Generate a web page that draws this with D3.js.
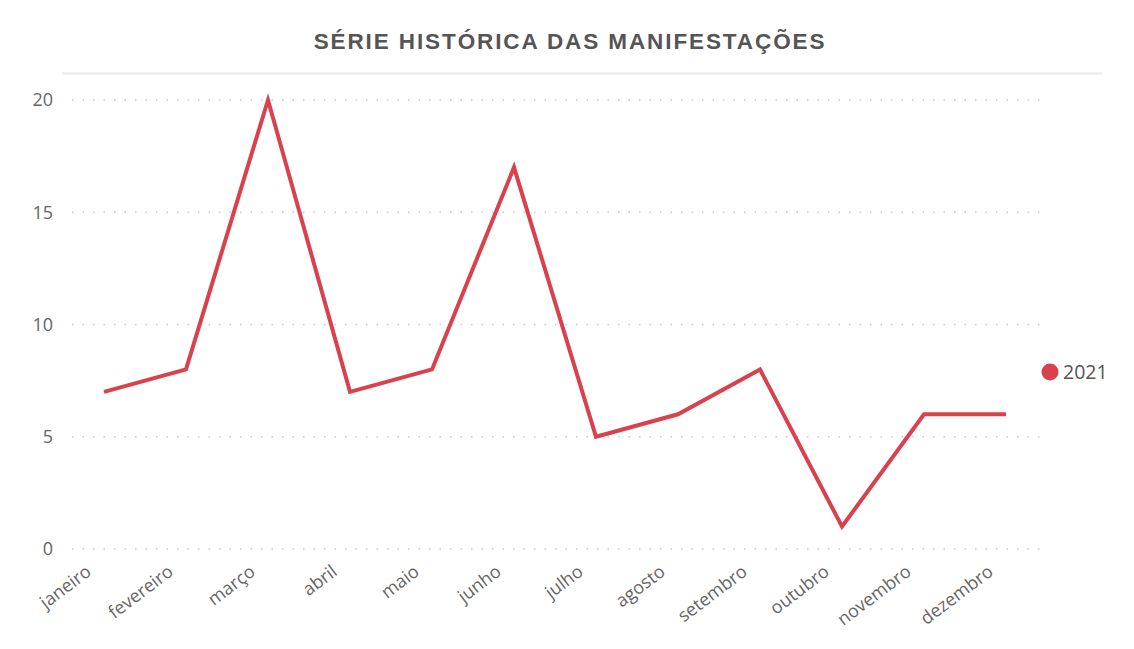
<!DOCTYPE html>
<html>
<head>
<meta charset="utf-8">
<script src="https://cdn.jsdelivr.net/npm/d3@7"></script>
<style>
  body { margin: 0; background: #fff; }
  svg { display: block; }
</style>
</head>
<body>
<svg id="chart" width="1134" height="649"></svg>
<script>
var months = ["janeiro", "fevereiro", "março", "abril", "maio", "junho", "julho", "agosto", "setembro", "outubro", "novembro", "dezembro"];
var values2021 = [7, 8, 20, 7, 8, 17, 5, 6, 8, 1, 6, 6];
var yTicks = [0, 5, 10, 15, 20];
var seriesName = "2021";
var title = "SÉRIE HISTÓRICA DAS MANIFESTAÇÕES";

var lineColor = "#d9414f";
var textColor = "#666";

var svg = d3.select("#chart");

// title
svg.append("text")
  .attr("x", 570)
  .attr("y", 48.5)
  .attr("text-anchor", "middle")
  .attr("font-family", "Liberation Sans, Arial, sans-serif")
  .attr("font-weight", "bold")
  .attr("font-size", 22.5)
  .attr("letter-spacing", 1.9)
  .attr("fill", "#555")
  .text(title);

svg.append("line")
  .attr("x1", 62).attr("x2", 1102)
  .attr("y1", 73.5).attr("y2", 73.5)
  .attr("stroke", "#eaeaea")
  .attr("stroke-width", 2);

var xScale = d3.scalePoint().domain(months).range([104, 1006]);
var yScale = d3.scaleLinear().domain([0, 20]).range([549, 100]);

// grid
svg.selectAll(".grid").data(yTicks).enter()
  .append("line")
  .attr("class", "grid")
  .attr("x1", 72)
  .attr("x2", 1040)
  .attr("y1", function(d) { return yScale(d); })
  .attr("y2", function(d) { return yScale(d); })
  .attr("stroke", "#c8c8c8")
  .attr("stroke-width", 1.5)
  .attr("stroke-dasharray", "1.5,9");

// y axis
var yAxis = d3.axisLeft(yScale).tickValues(yTicks).tickSize(0).tickPadding(0);
var gy = svg.append("g")
  .attr("transform", "translate(53,0)")
  .call(yAxis);
gy.select(".domain").remove();
gy.selectAll("text")
  .attr("font-family", "Open Sans, sans-serif")
  .attr("font-size", 18)
  .attr("fill", textColor);

// x axis
var xAxis = d3.axisBottom(xScale).tickSize(0).tickPadding(0);
var gx = svg.append("g")
  .attr("transform", "translate(0,549)")
  .call(xAxis);
gx.select(".domain").remove();
gx.selectAll("text")
  .attr("font-family", "Open Sans, sans-serif")
  .attr("font-size", 18)
  .attr("fill", textColor)
  .attr("text-anchor", "end")
  .attr("dy", null)
  .attr("y", 0)
  .attr("transform", "translate(-12,25) rotate(-37)");

// line
var line = d3.line()
  .x(function(d, i) { return xScale(months[i]); })
  .y(function(d) { return yScale(d); });

svg.append("path")
  .datum(values2021)
  .attr("d", line)
  .attr("fill", "none")
  .attr("stroke", lineColor)
  .attr("stroke-width", 4)
  .attr("stroke-linejoin", "miter");

// legend
svg.append("circle")
  .attr("cx", 1050)
  .attr("cy", 372)
  .attr("r", 8.5)
  .attr("fill", lineColor);

svg.append("text")
  .attr("x", 1063)
  .attr("y", 378.5)
  .attr("font-family", "Open Sans, sans-serif")
  .attr("font-size", 19.5)
  .attr("fill", "#555")
  .text(seriesName);
</script>
</body>
</html>
